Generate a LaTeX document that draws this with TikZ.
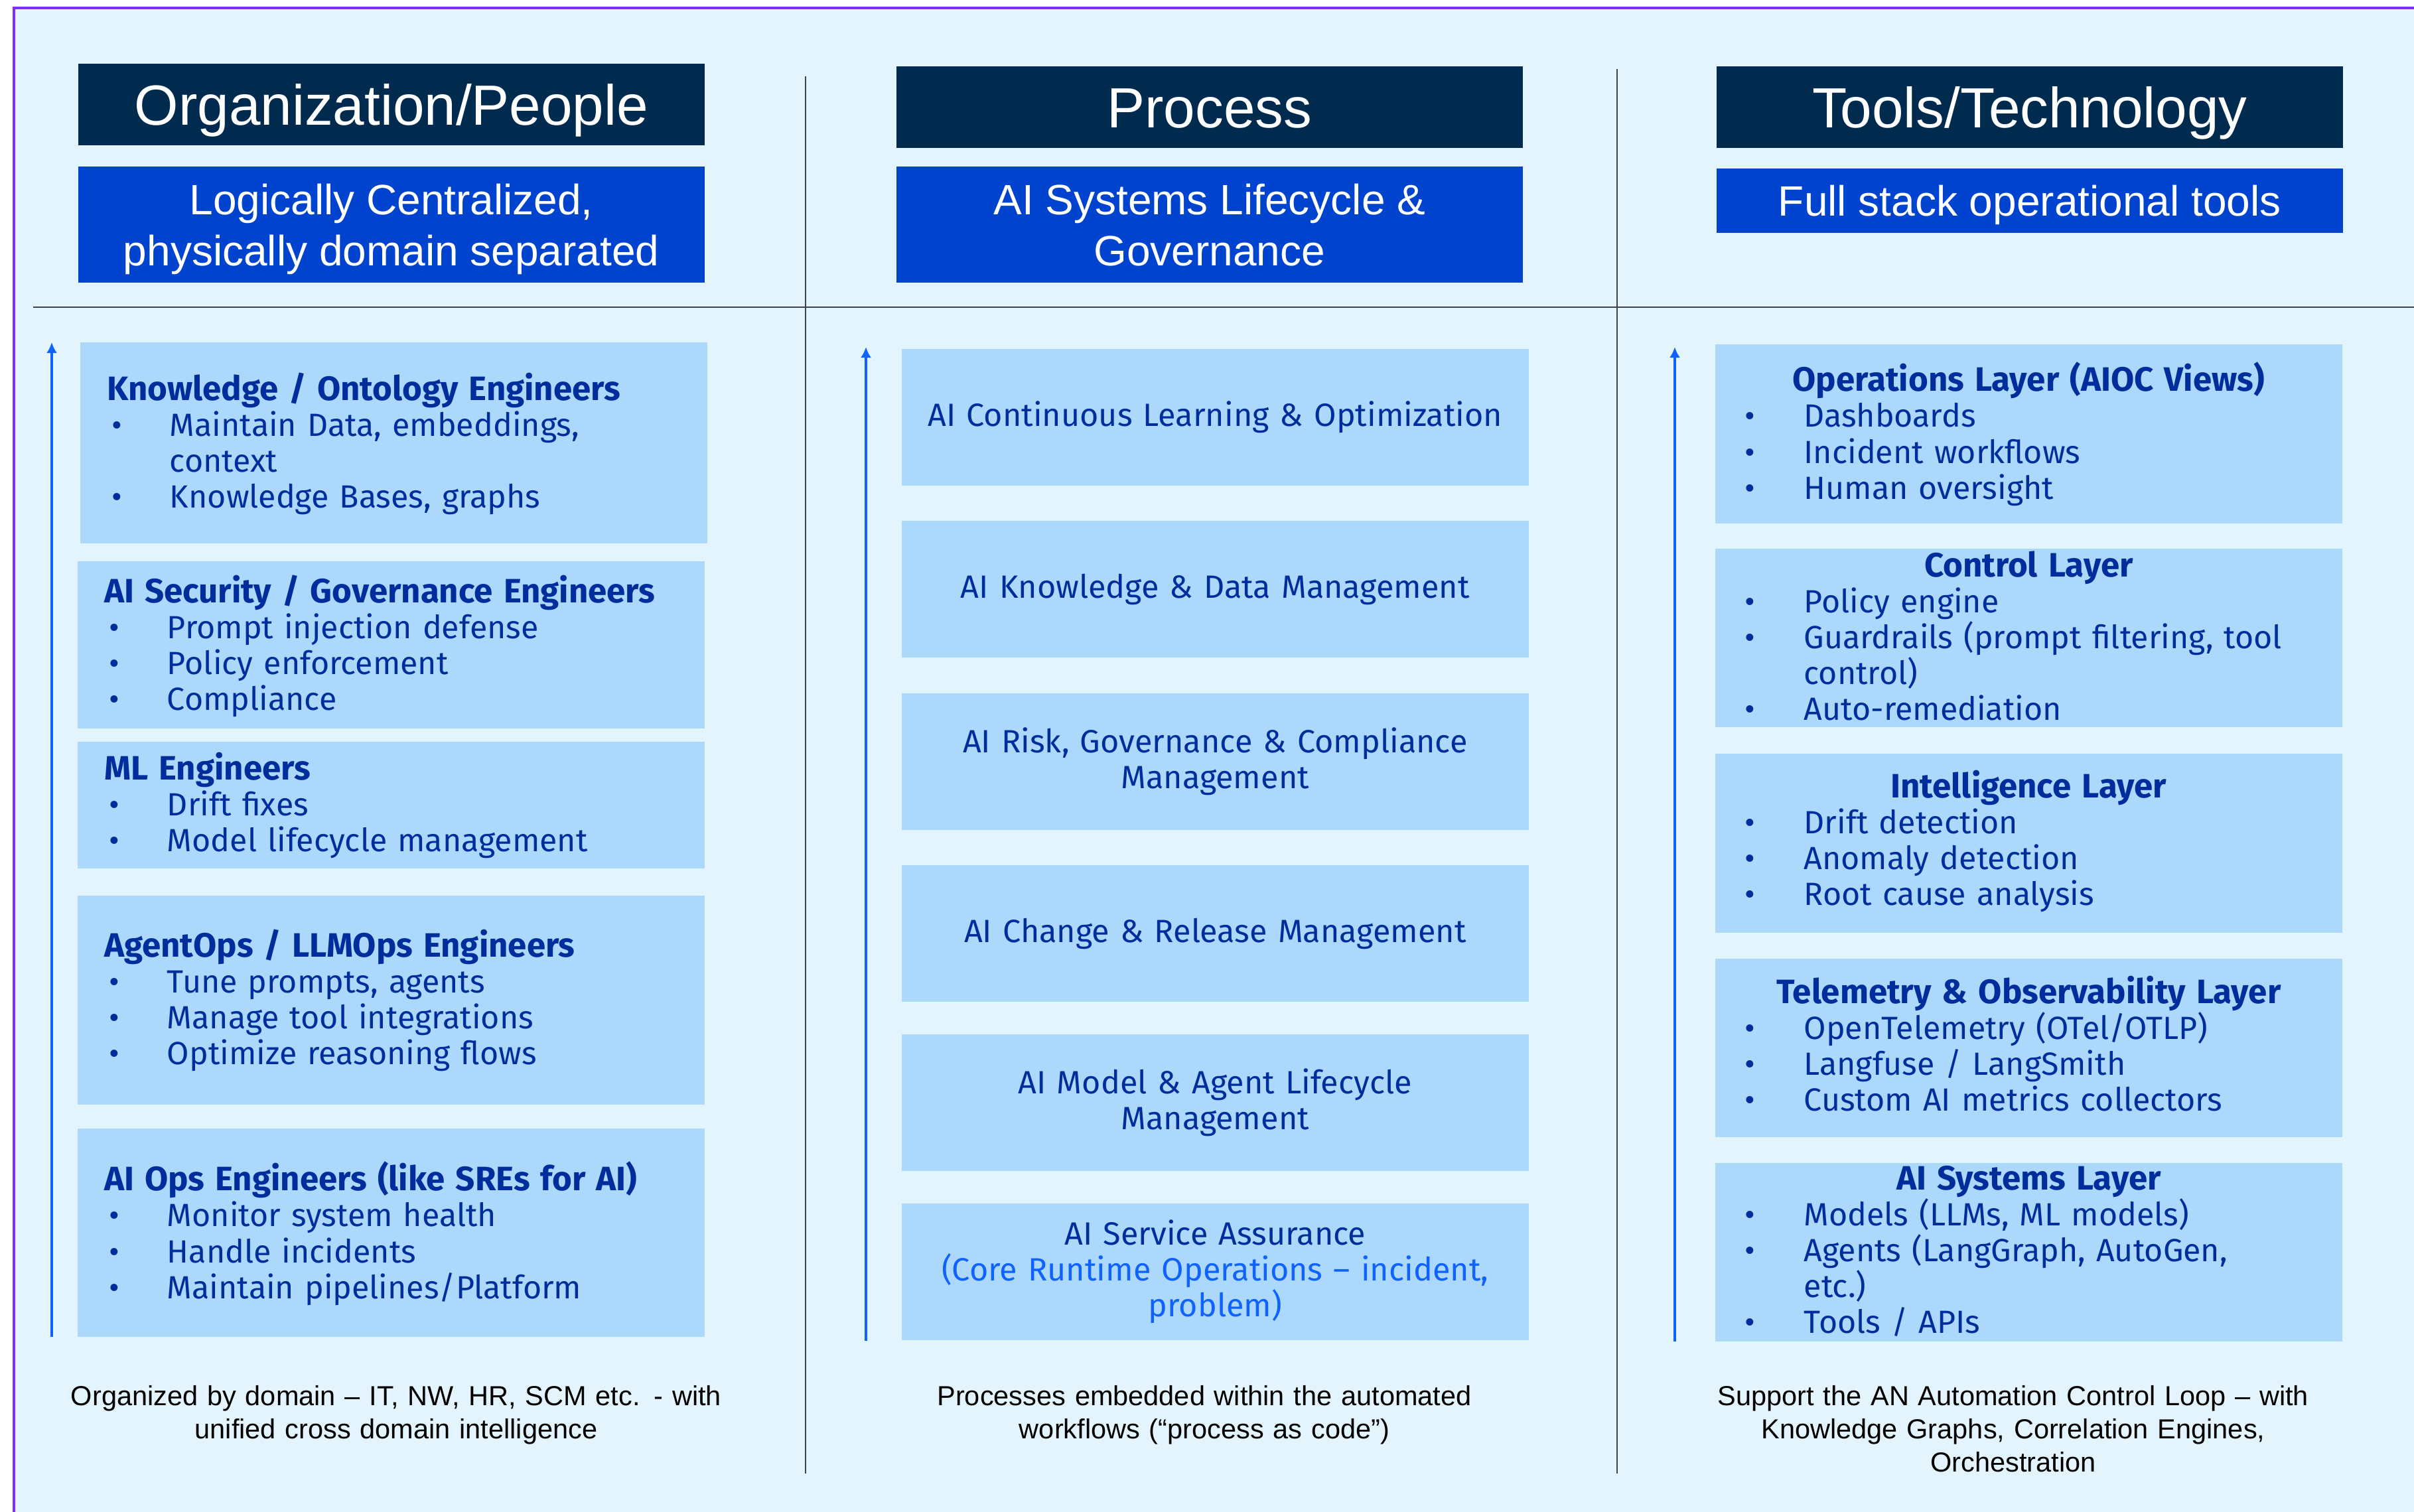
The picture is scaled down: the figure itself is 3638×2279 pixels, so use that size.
\documentclass[tikz,border=0pt]{standalone}
\usepackage{fontspec}
\setmainfont{Liberation Sans}
\newfontfamily\plexfont{Fira Sans}
\usepackage{tikz}
\usetikzlibrary{positioning}
\usetikzlibrary{arrows.meta}
\definecolor{bgblue}{RGB}{228,244,253}
\definecolor{boxblue}{RGB}{172,216,251}
\definecolor{navy}{RGB}{0,42,78}
\definecolor{royal}{RGB}{0,67,206}
\definecolor{inkblue}{RGB}{0,45,156}
\definecolor{brightblue}{RGB}{15,98,254}
\definecolor{framecol}{RGB}{125,45,255}
\definecolor{rulegray}{RGB}{62,68,74}
\newlength{\bulind}
\newlength{\bulpre}
\newcommand{\bitem}{\par\hangindent=\bulind\hangafter=1\noindent\makebox[\bulind][l]{\hspace{\bulpre}\textbullet}}
\newcommand{\firstln}{\noindent\rule{0pt}{12pt}}
\newcommand{\cardhead}[1]{{\fontsize{14.5}{15.4}\selectfont\bfseries #1}}

\begin{document}
\begin{tikzpicture}[x=0.01cm, y=-0.01cm,
	hdr/.style={anchor=north west, fill=navy, text=white, minimum width=9.43cm, minimum height=1.23cm, inner sep=0pt, outer sep=0pt, text height=17.4pt, text depth=0pt, font=\fontsize{24.3}{29}\selectfont},
	sub/.style={anchor=north west, fill=royal, text=white, minimum width=9.43cm, inner sep=0pt, outer sep=0pt, align=center, text depth=0pt, font=\fontsize{18.2}{22}\selectfont},
	card/.style={anchor=north west, fill=boxblue, minimum width=9.44cm, inner sep=0pt, outer sep=0pt},
	cardtxt/.style={anchor=north west, inner sep=0pt, outer sep=0pt, text=inkblue, font=\plexfont\fontsize{13.75}{15.4}\selectfont},
	ppltxt/.style={cardtxt, text width=8.8cm, execute at begin node={\setlength{\bulind}{27pt}\setlength{\bulpre}{2pt}}},
	lyrtxt/.style={cardtxt, text width=8.56cm, execute at begin node={\setlength{\bulind}{25.5pt}\setlength{\bulpre}{0pt}}},
	proc/.style={card, text=inkblue, minimum height=2.06cm, text width=9.44cm, align=center, font=\plexfont\fontsize{13.8}{15.4}\selectfont},
	note/.style={anchor=north, inner sep=0pt, outer sep=0pt, text width=11cm, align=center, font=\fontsize{11.8}{14.2}\selectfont},
	rise/.style={brightblue, line width=1.1pt, -{Latex[length=4.6pt,width=4.6pt]}},
	sep/.style={rulegray, line width=0.55pt}]
	\useasboundingbox (0,0) rectangle (3638,2279);
	\fill[bgblue] (20,11) rectangle (3638,2279);
	\coordinate (fr) at (3638,12);
	\coordinate (fc) at (21,12);
	\coordinate (fb) at (21,2279);
	\draw[framecol, line width=0.9pt] (fr) -- (fc) -- (fb);
	
	\coordinate (hl) at (50,463);
	\coordinate (hr) at (3638,463);
	\coordinate (v1t) at (1214,115);
	\coordinate (v1b) at (1214,2221);
	\coordinate (v2t) at (2437,104);
	\coordinate (v2b) at (2437,2221);
	\draw[rulegray, line width=0.85pt] (hl) -- (hr);
	\draw[sep] (v1t) -- (v1b);
	\draw[sep] (v2t) -- (v2b);
	
	\node[hdr] (h1) at (118,96) {Organization/People};
	\node[hdr] (h2) at (1351,100) {Process};
	\node[hdr] (h3) at (2587,100) {Tools/Technology};
	\node[sub, minimum height=1.75cm, below=0.32cm of h1] (s1) {Logically Centralized,\\physically domain separated};
	\node[sub, minimum height=1.75cm, below=0.28cm of h2] (s2) {AI Systems Lifecycle \&\\Governance};
	\node[sub, minimum height=0.97cm, below=0.31cm of h3] (s3) {Full stack operational tools};
	
	\node[card, minimum height=3.03cm] (k1) at (121,516) {};
	\node[card, minimum height=2.52cm] (k2) at (117,846) {};
	\node[card, minimum height=1.91cm] (k3) at (117,1118) {};
	\node[card, minimum height=3.15cm] (k4) at (117,1350) {};
	\node[card, minimum height=3.14cm] (k5) at (117,1701) {};
	
	\node[ppltxt, below right=0.45cm and 0.4cm of k1.north west] (k1t) {\firstln\cardhead{Knowledge / Ontology Engineers}\bitem Maintain Data, embeddings,\hfil\break context\bitem Knowledge Bases, graphs};
	\node[ppltxt, below right=0.2cm and 0.4cm of k2.north west] (k2t) {\firstln\cardhead{AI Security / Governance Engineers}\bitem Prompt injection defense\bitem Policy enforcement\bitem Compliance};
	\node[ppltxt, below right=0.15cm and 0.4cm of k3.north west] (k3t) {\firstln\cardhead{ML Engineers}\bitem Drift fixes\bitem Model lifecycle management};
	\node[ppltxt, below right=0.5cm and 0.4cm of k4.north west] (k4t) {\firstln\cardhead{AgentOps / LLMOps Engineers}\bitem Tune prompts, agents\bitem Manage tool integrations\bitem Optimize reasoning flows};
	\node[ppltxt, below right=0.5cm and 0.4cm of k5.north west] (k5t) {\firstln\cardhead{AI Ops Engineers (like SREs for AI)}\bitem Monitor system health\bitem Handle incidents\bitem Maintain pipelines/Platform};
	
	\node[proc] (p1) at (1359,526) {AI Continuous Learning \& Optimization};
	\node[proc] (p2) at (1359,785) {AI Knowledge \& Data Management};
	\node[proc] (p3) at (1359,1045) {AI Risk, Governance \& Compliance\\Management};
	\node[proc] (p4) at (1359,1304) {AI Change \& Release Management};
	\node[proc] (p5) at (1359,1559) {AI Model \& Agent Lifecycle\\Management};
	\node[proc] (p6) at (1359,1814) {AI Service Assurance\\\textcolor{brightblue}{(Core Runtime Operations – incident,}\\\textcolor{brightblue}{problem)}};
	
	\node[card, minimum height=2.70cm] (t1) at (2585,519) {};
	\node[card, minimum height=2.69cm] (t2) at (2585,827) {};
	\node[card, minimum height=2.70cm] (t3) at (2585,1136) {};
	\node[card, minimum height=2.69cm] (t4) at (2585,1445) {};
	\node[card, minimum height=2.69cm] (t5) at (2585,1753) {};
	
	\node[lyrtxt, below right=0.27cm and 0.44cm of t1.north west] (t1t) {\firstln\hbox to\hsize{\hss\cardhead{Operations Layer (AIOC Views)}\hss}\bitem Dashboards\bitem Incident workflows\bitem Human oversight};
	\node[lyrtxt, below right=0cm and 0.44cm of t2.north west] (t2t) {\firstln\hbox to\hsize{\hss\cardhead{Control Layer}\hss}\bitem Policy engine\bitem Guardrails (prompt filtering, tool\hfil\break control)\bitem Auto-remediation};
	\node[lyrtxt, below right=0.24cm and 0.44cm of t3.north west] (t3t) {\firstln\hbox to\hsize{\hss\cardhead{Intelligence Layer}\hss}\bitem Drift detection\bitem Anomaly detection\bitem Root cause analysis};
	\node[lyrtxt, below right=0.25cm and 0.44cm of t4.north west] (t4t) {\firstln\hbox to\hsize{\hss\cardhead{Telemetry \& Observability Layer}\hss}\bitem OpenTelemetry (OTel/OTLP)\bitem Langfuse / LangSmith\bitem Custom AI metrics collectors};
	\node[lyrtxt, below right=-0.02cm and 0.44cm of t5.north west] (t5t) {\firstln\hbox to\hsize{\hss\cardhead{AI Systems Layer}\hss}\bitem Models (LLMs, ML models)\bitem Agents (LangGraph, AutoGen,\hfil\break etc.)\bitem Tools / APIs};
	
	\node[note] (n1) at (597,2083) {\rule{0pt}{10pt}Organized by domain – IT, NW, HR, SCM etc. - with\\unified cross domain intelligence};
	\node[note] (n2) at (1815,2083) {\rule{0pt}{10pt}Processes embedded within the automated\\workflows (“process as code”)};
	\node[note] (n3) at (3034,2083) {\rule{0pt}{10pt}Support the AN Automation Control Loop – with\\Knowledge Graphs, Correlation Engines,\\Orchestration};
	
	\coordinate (a1s) at (78,2015);
	\coordinate (a1e) at (78,516);
	\coordinate (a2s) at (1305,2021);
	\coordinate (a2e) at (1305,523);
	\coordinate (a3s) at (2524,2022);
	\coordinate (a3e) at (2524,523);
	\draw[rise] (a1s) -- (a1e);
	\draw[rise] (a2s) -- (a2e);
	\draw[rise] (a3s) -- (a3e);
\end{tikzpicture}
\end{document}
